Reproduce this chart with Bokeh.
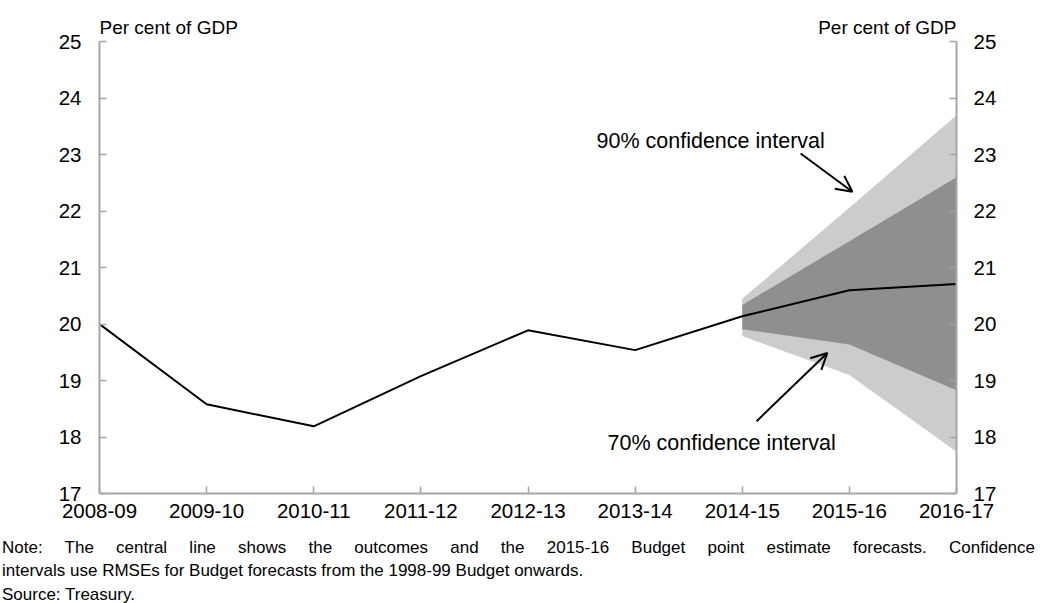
from bokeh.plotting import figure
from bokeh.models import Range1d, LinearAxis, FixedTicker, Label, Arrow, OpenHead, Div
from bokeh.layouts import column
from bokeh.embed import file_html
from bokeh.resources import INLINE

# ---- data ----
years = ["2008-09", "2009-10", "2010-11", "2011-12", "2012-13",
         "2013-14", "2014-15", "2015-16", "2016-17"]
central = [20.0, 18.58, 18.19, 19.08, 19.89, 19.54, 20.14, 20.60, 20.71]

fan_years = ["2014-15", "2015-16", "2016-17"]
ci90_upper = [20.45, 22.06, 23.70]
ci90_lower = [19.79, 19.10, 17.74]
ci70_upper = [20.34, 21.47, 22.60]
ci70_lower = [19.91, 19.64, 18.83]

y_ticks = [17, 18, 19, 20, 21, 22, 23, 24, 25]
y_unit_label = "Per cent of GDP"

notes = ["Note: The central line shows the outcomes and the 2015-16 Budget point estimate forecasts. Confidence",
         "intervals use RMSEs for Budget forecasts from the 1998-99 Budget onwards.",
         "Source: Treasury."]

FONT = "Liberation Sans"
AXIS_GREY = "#A6A6A6"

xi = list(range(len(years)))
fan_x = [years.index(y) for y in fan_years]

p = figure(width=1040, height=532, frame_width=857, frame_height=493,
           min_border_left=99, min_border_right=84,
           min_border_top=0, min_border_bottom=39,
           x_range=Range1d(0, len(years) - 1), y_range=Range1d(17, 25.733),
           output_backend="svg", toolbar_location=None)
p.outline_line_color = None
p.grid.visible = False
p.background_fill_color = "white"
p.border_fill_color = "white"

# fans
p.varea(x=fan_x, y1=ci90_lower, y2=ci90_upper, fill_color="#CCCCCC")
p.varea(x=fan_x, y1=ci70_lower, y2=ci70_upper, fill_color="#8F8F8F")
# central line
p.line(xi, central, line_color="black", line_width=2)

# axes
p.xaxis.ticker = FixedTicker(ticks=xi)
p.xaxis.major_label_overrides = {i: y for i, y in zip(xi, years)}
p.yaxis.ticker = FixedTicker(ticks=y_ticks)
p.yaxis.bounds = (17, 25)
right = LinearAxis(ticker=FixedTicker(ticks=y_ticks), bounds=(17, 25))
p.add_layout(right, "right")

for ax in [p.xaxis[0], p.yaxis[0], right]:
    ax.axis_line_color = AXIS_GREY
    ax.axis_line_width = 2
    ax.major_tick_line_color = AXIS_GREY
    ax.major_tick_line_width = 1.5
    ax.major_tick_in = 7
    ax.major_tick_out = 0
    ax.minor_tick_line_color = None
    ax.major_label_text_font = FONT
    ax.major_label_text_font_size = "20.5px"
    ax.major_label_text_color = "black"
p.xaxis.major_label_standoff = 10
p.yaxis[0].major_label_standoff = 18
right.major_label_standoff = 17

# unit labels
p.add_layout(Label(x=0, y=25.255, text=y_unit_label, text_font=FONT, text_color="black",
                   text_font_size="19px", text_align="left", text_baseline="alphabetic"))
p.add_layout(Label(x=8, y=25.255, text=y_unit_label, text_font=FONT, text_color="black",
                   text_font_size="19px", text_align="right", text_baseline="alphabetic"))

# annotations
p.add_layout(Label(x=5.705, y=23.25, text="90% confidence interval", text_font=FONT,
                   text_color="black", text_font_size="21.5px",
                   text_align="center", text_baseline="middle"))
p.add_layout(Label(x=5.808, y=17.90, text="70% confidence interval", text_font=FONT,
                   text_color="black", text_font_size="21.5px",
                   text_align="center", text_baseline="middle"))
p.add_layout(Arrow(x_start=6.545, y_start=23.024, x_end=7.028, y_end=22.344,
                   line_width=2, line_color="black",
                   end=OpenHead(size=16, line_width=2, line_color="black")))
p.add_layout(Arrow(x_start=6.134, y_start=18.281, x_end=6.794, y_end=19.49,
                   line_width=2, line_color="black",
                   end=OpenHead(size=16, line_width=2, line_color="black")))

# notes below the chart
html = (
    "<div style=\"font-family:'Liberation Sans',Arial,sans-serif;font-size:17px;"
    "line-height:23.5px;color:black;padding:3.5px 0 0 2px;margin:0;\">"
    f"<div style=\"width:1033px;text-align:justify;text-align-last:justify;white-space:nowrap;\">{notes[0]}</div>"
    f"<div>{notes[1]}</div>"
    f"<div>{notes[2]}</div>"
    "</div>"
)
note_div = Div(text=html, width=1040, height=71, margin=(0, 0, 0, 0))

layout = column(p, note_div, spacing=0)
open("out.html", "w").write(file_html(layout, INLINE))
